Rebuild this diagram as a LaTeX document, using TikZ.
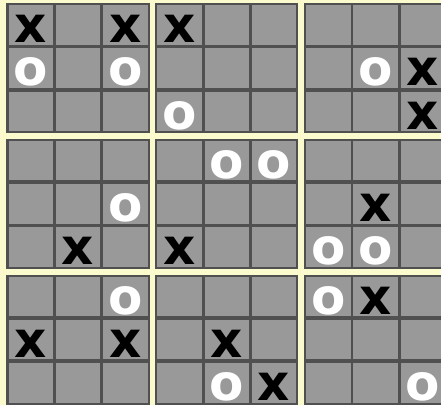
\documentclass[tikz,border=0pt]{standalone}
\usepackage{fontspec}
\newfontfamily\markfont{DejaVu Sans}
\definecolor{cream}{RGB}{250,250,205}
\definecolor{cellgray}{RGB}{153,153,153}
\definecolor{linegray}{RGB}{80,80,80}
\begin{document}
\begin{tikzpicture}[x=1pt,y=-1pt,
  blockbox/.style={fill=linegray},
  cellbox/.style={fill=cellgray},
  xmark/.style={anchor=base, inner sep=0pt, text height=0.56em, text depth=0pt, font=\markfont\bfseries\fontsize{50}{50}\selectfont, text=black},
  omark/.style={xmark, text=white}]
\useasboundingbox (0,0) rectangle (441,405);
\clip (0,0) rectangle (441,405);
\fill[cream] (0,0) rectangle (441,405);
\foreach \bx in {0,1,2}{
  \foreach \by in {0,1,2}{
    \pgfmathsetmacro\xo{6+\bx*148.75}
    \pgfmathsetmacro\yo{3+\by*135.75}
    \path[blockbox] (\xo,\yo) rectangle ++(143.5,130);
    \foreach \i in {0,1,2}{
      \foreach \j in {0,1,2}{
        \path[cellbox] ({\xo+2.5+\i*47.3},{\yo+2+\j*43.3}) rectangle ++(44.5,39.5);
      }
    }
  }
}
\foreach \r/\c in {1/1,1/3,1/4,2/9,3/9,5/8,6/2,6/4,7/8,8/1,8/3,8/5,9/6}{
  \pgfmathsetmacro\cx{6+floor((\c-1)/3)*148.75+2.5+mod(\c-1,3)*47.3+22.25}
  \pgfmathsetmacro\cy{3+floor((\r-1)/3)*135.75+2+mod(\r-1,3)*43.3+37.5}
  \node[xmark] (x-\r-\c) at (\cx,\cy) {x};
}
\foreach \r/\c in {2/1,2/3,3/4,2/8,4/5,4/6,5/3,6/7,6/8,7/3,7/7,9/5,9/9}{
  \pgfmathsetmacro\cx{6+floor((\c-1)/3)*148.75+2.5+mod(\c-1,3)*47.3+22.25}
  \pgfmathsetmacro\cy{3+floor((\r-1)/3)*135.75+2+mod(\r-1,3)*43.3+37.5}
  \node[omark] (o-\r-\c) at (\cx,\cy) {o};
}
\end{tikzpicture}
\end{document}
